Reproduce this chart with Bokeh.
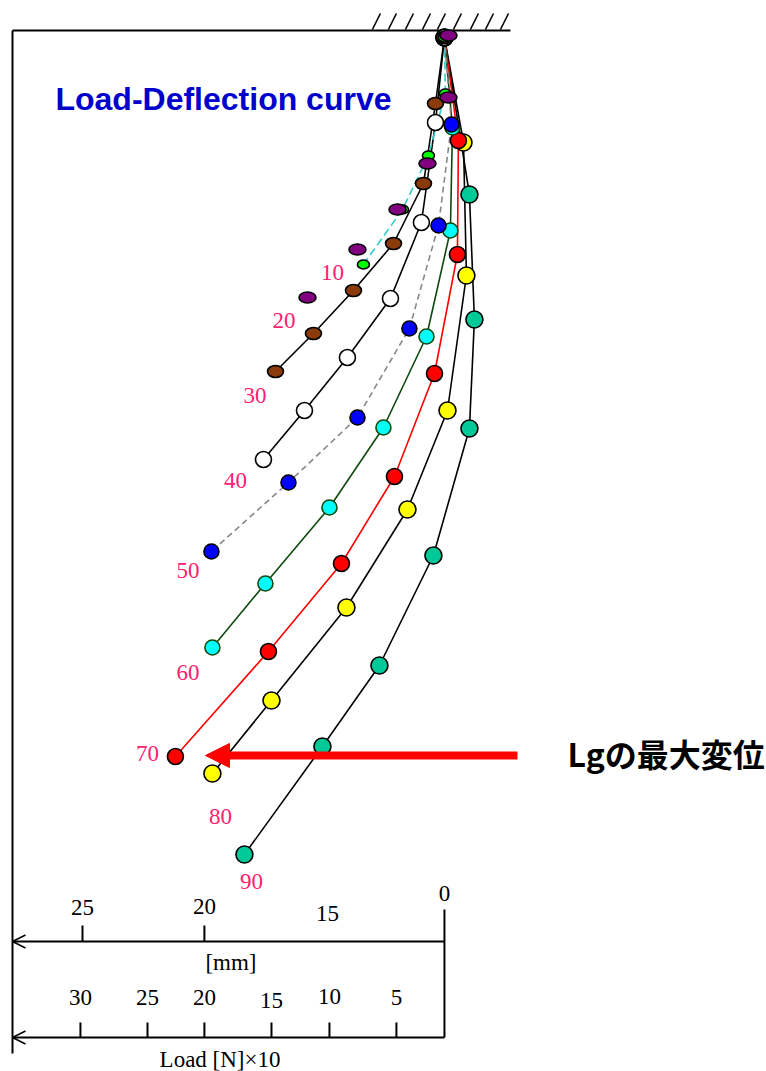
from bokeh.plotting import figure
from bokeh.models import Range1d, Arrow, NormalHead, OpenHead
from bokeh.core.properties import value
from bokeh.embed import file_html
from bokeh.resources import INLINE

# ---- data: x = deflection (chart units, leftward positive), y = position along the beam (downward)
loads = [10, 20, 30, 40, 50, 60, 70, 80, 90]

s10_x = [0.0, -0.08, 1.32, 3.46, 6.68]
s10_y = [0.7, 6.3, 12.5, 17.9, 23.4]
s20_x = [-0.33, -0.33, 1.40, 3.87, 7.17, 11.29]
s20_y = [0.5, 6.7, 13.3, 17.9, 21.9, 26.7]
s30_x = [0.0, 0.74, 1.73, 4.20, 7.50, 10.80, 13.93]
s30_y = [0.7, 7.3, 15.3, 21.3, 26.0, 30.3, 34.1]
s40_x = [0.0, 0.74, 1.90, 4.45, 8.00, 11.54, 14.92]
s40_y = [0.7, 9.2, 19.2, 26.8, 32.7, 38.0, 42.9]
s50_x = [0.0, -0.58, 0.49, 2.89, 7.17, 12.86, 19.21]
s50_y = [0.7, 9.4, 19.5, 29.8, 38.7, 45.2, 52.1]
s60_x = [0.0, -0.66, -0.49, 1.48, 5.03, 9.48, 14.76, 19.13]
s60_y = [0.7, 9.7, 20.0, 30.6, 39.7, 47.7, 55.3, 61.7]
s70_x = [0.0, -1.15, -1.07, 0.82, 4.12, 8.49, 14.51, 22.18]
s70_y = [0.7, 11.0, 22.4, 34.3, 44.6, 53.3, 62.1, 72.6]
s80_x = [0.0, -1.57, -1.81, -0.25, 3.05, 8.08, 14.26, 19.13]
s80_y = [0.7, 11.2, 24.5, 38.0, 47.9, 57.7, 67.0, 74.3]
s90_x = [0.0, -2.06, -2.47, -2.06, 0.91, 5.36, 10.06, 16.49]
s90_y = [0.7, 16.4, 28.9, 39.8, 52.5, 63.5, 71.6, 82.4]

# load labels near curve tips
load_label_x = [9.23, 13.23, 15.62, 17.23, 21.15, 21.15, 24.48, 18.47, 15.91]
load_label_y = [24.2, 29.0, 36.5, 45.0, 54.0, 64.15, 72.3, 78.6, 85.05]

# bottom scales
mm_tick_labels = ["25", "20", "15", "0"]
mm_tick_pos = [29.84, 19.79, 9.65, 0.0]
mm_label_y = [87.7, 87.6, 88.25, 86.25]
load_tick_labels = ["30", "25", "20", "15", "10", "5"]
load_tick_pos = [30.01, 24.48, 19.79, 14.26, 9.48, 3.96]
load_label_y2 = [96.7, 96.7, 96.7, 96.95, 96.55, 96.7]

# fixed support hatch (bottom x of each stroke)
hatch_x = [5.94, 4.62, 3.22, 1.81, 0.58, -0.74, -2.14, -3.38, -4.62]

# ---- figure
p = figure(width=766, height=1071,
           x_range=Range1d(36.60, -26.55), y_range=Range1d(104.1, -3.0),
           output_backend="svg", toolbar_location=None, min_border=0,
           x_axis_location=None, y_axis_location=None)
p.grid.visible = False
p.outline_line_color = None
p.background_fill_color = "white"
p.border_fill_color = "white"

LW = 1.6
# frame / support
frame_left = 35.61
p.line([frame_left, frame_left], [0.0, 102.3], line_color="black", line_width=2)
p.line([frame_left, -5.44], [0.0, 0.0], line_color="black", line_width=2)
p.segment(x0=hatch_x, y0=[-0.1] * len(hatch_x), x1=[h - 0.66 for h in hatch_x],
          y1=[-1.7] * len(hatch_x), line_color="black", line_width=1.6)

# series definitions (drawn from heaviest to lightest)
series = [
    dict(x=s90_x, y=s90_y, line="black", dash="solid", fill="#00C896", outline="black", kind="circle", size=17),
    dict(x=s80_x, y=s80_y, line="black", dash="solid", fill="#FFFF00", outline="black", kind="circle", size=17),
    dict(x=s70_x, y=s70_y, line="red", dash="solid", fill="#FF0000", outline="black", kind="circle", size=16),
    dict(x=s60_x, y=s60_y, line="#0E4A0E", dash="solid", fill="#00FFFF", outline="#0E4A0E", kind="circle", size=15),
    dict(x=s50_x, y=s50_y, line="#888888", dash="6 4", fill="#0000FF", outline="black", kind="circle", size=15),
    dict(x=s40_x, y=s40_y, line="black", dash="solid", fill="white", outline="black", kind="circle", size=16),
    dict(x=s30_x, y=s30_y, line="black", dash="solid", fill="#8B3A0A", outline="black", kind="ellipse", w=16, h=12),
    dict(x=s10_x, y=s10_y, line="#33CCCC", dash="8 4", fill="#00FF00", outline="black", kind="ellipse", w=12, h=9),
    dict(x=s20_x, y=s20_y, line=None, dash="solid", fill="#800080", outline="black", kind="ellipse", w=17, h=11),
]

for s in series:
    if s["line"] is not None:
        p.line(s["x"], s["y"], line_color=s["line"], line_width=LW, line_dash=s["dash"])
for s in series:
    if s["kind"] == "circle":
        p.scatter(s["x"], s["y"], marker="circle", size=s["size"], fill_color=s["fill"],
                  line_color=s["outline"], line_width=1.6)
    else:
        p.ellipse(s["x"], s["y"], width=s["w"], height=s["h"], width_units="screen",
                  height_units="screen", fill_color=s["fill"], line_color=s["outline"], line_width=1.6)

# load labels
p.text(load_label_x, load_label_y, text=[str(l) for l in loads],
       text_font=value("Liberation Serif"), text_font_size="23px", text_color="#FF2070",
       text_align="center", text_baseline="middle")

# title
p.text([32.07], [6.8], text=["Load-Deflection curve"], text_font=value("Liberation Sans"),
       text_font_size="32px", text_font_style="bold", text_color="#0000CC",
       text_align="left", text_baseline="middle")

# max deflection arrow and annotation
p.add_layout(Arrow(end=NormalHead(size=24, fill_color="red", line_color="red", line_width=1),
                   x_start=-6.02, y_start=72.5, x_end=19.70, y_end=72.5,
                   line_color="red", line_width=8))
p.text([-10.14], [72.2], text=["Lgの最大変位"], text_font=value("Noto Sans CJK JP"),
       text_font_size="32px", text_font_style="bold", text_color="black",
       text_align="left", text_baseline="middle")

# mm scale
mm_line_y = 91.1
p.add_layout(Arrow(end=OpenHead(size=13, line_color="black", line_width=1.6),
                   x_start=0.0, y_start=mm_line_y, x_end=frame_left, y_end=mm_line_y,
                   line_color="black", line_width=2))
p.segment(x0=mm_tick_pos[:2], y0=[89.5, 89.5], x1=mm_tick_pos[:2], y1=[mm_line_y, mm_line_y],
          line_color="black", line_width=2)
p.text(mm_tick_pos, mm_label_y, text=mm_tick_labels, text_font=value("Liberation Serif"),
       text_font_size="23px", text_color="black", text_align="center", text_baseline="middle")
p.text([17.6], [93.2], text=["[mm]"], text_font=value("Liberation Serif"),
       text_font_size="23px", text_color="black", text_align="center", text_baseline="middle")

# load scale
ld_line_y = 100.7
p.add_layout(Arrow(end=OpenHead(size=13, line_color="black", line_width=1.6),
                   x_start=0.0, y_start=ld_line_y, x_end=frame_left, y_end=ld_line_y,
                   line_color="black", line_width=2))
p.line([0.0, 0.0], [87.9, ld_line_y], line_color="black", line_width=2)
p.segment(x0=load_tick_pos, y0=[99.2] * len(load_tick_pos), x1=load_tick_pos,
          y1=[ld_line_y] * len(load_tick_pos), line_color="black", line_width=2)
p.text(load_tick_pos, load_label_y2, text=load_tick_labels, text_font=value("Liberation Serif"),
       text_font_size="23px", text_color="black", text_align="center", text_baseline="middle")
p.text([18.5], [102.9], text=["Load [N]×10"], text_font=value("Liberation Serif"),
       text_font_size="23px", text_color="black", text_align="center", text_baseline="middle")

open("out.html", "w").write(file_html(p, INLINE))
